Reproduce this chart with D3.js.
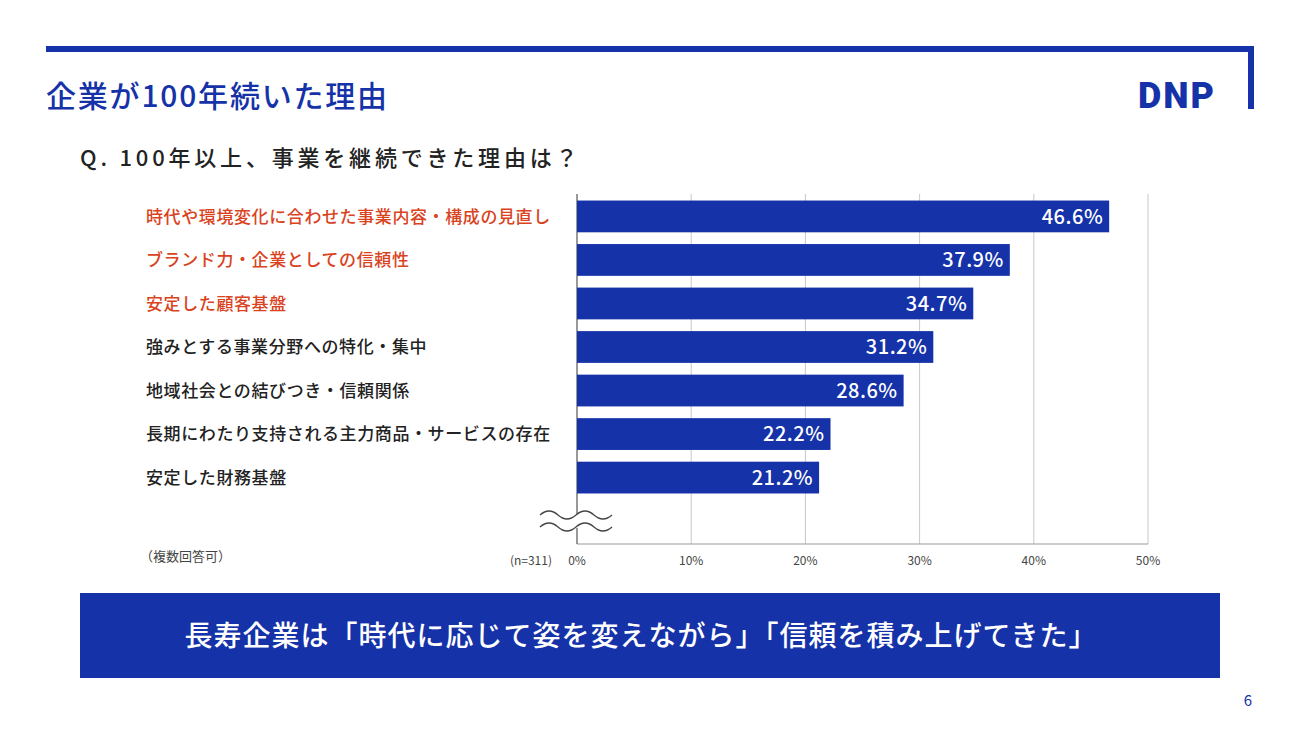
<!DOCTYPE html>
<html>
<head>
<meta charset="UTF-8">
<script src="https://d3js.org/d3.v7.min.js"></script>
<style>
  body { margin: 0; background: #fff; }
  text { font-family: "Noto Sans CJK JP", "Noto Sans", sans-serif; }
</style>
</head>
<body>
<svg width="1300" height="731"></svg>
<script>
// Data
var reasons = [
  "時代や環境変化に合わせた事業内容・構成の見直し",
  "ブランド力・企業としての信頼性",
  "安定した顧客基盤",
  "強みとする事業分野への特化・集中",
  "地域社会との結びつき・信頼関係",
  "長期にわたり支持される主力商品・サービスの存在",
  "安定した財務基盤"
];
var shares = [46.6, 37.9, 34.7, 31.2, 28.6, 22.2, 21.2];
var highlighted = [true, true, true, false, false, false, false];
var ticks = [0, 10, 20, 30, 40, 50];

var blue = "#1532a8";
var red = "#d9431e";
var svg = d3.select("svg");

// Header frame
svg.append("rect").attr("x", 46).attr("y", 46).attr("width", 1208).attr("height", 6).attr("fill", blue);
svg.append("rect").attr("x", 1248).attr("y", 46).attr("width", 6).attr("height", 63).attr("fill", blue);
svg.append("text").attr("x", 46).attr("y", 107).text("企業が100年続いた理由")
  .attr("fill", blue).attr("font-size", 30).attr("font-weight", 500).attr("letter-spacing", 1.8);
svg.append("text").attr("x", 1216).attr("y", 108).attr("text-anchor", "end").text("DNP")
  .attr("fill", blue).attr("font-size", 36).attr("font-weight", 900)
  .style("font-family", "Roboto, sans-serif").attr("letter-spacing", 2);
svg.append("text").attr("x", 80).attr("y", 166).text("Q. 100年以上、事業を継続できた理由は？")
  .attr("fill", "#222").attr("font-size", 22).attr("font-weight", 500).attr("letter-spacing", 3.8);

// Scales
var x = d3.scaleLinear().domain([0, 50]).range([577, 1148]);
var y = d3.scaleBand().domain(reasons).range([194, 500]).paddingInner(0.27).paddingOuter(0.15);

// Grid
svg.append("g").selectAll("line").data(ticks.slice(1)).enter().append("line")
  .attr("x1", d => x(d)).attr("x2", d => x(d)).attr("y1", 194).attr("y2", 544)
  .attr("stroke", "#c8c8c8").attr("stroke-width", 1);
svg.append("line").attr("x1", 577).attr("x2", 1148).attr("y1", 544).attr("y2", 544)
  .attr("stroke", "#999").attr("stroke-width", 1.2);
svg.append("line").attr("x1", 577).attr("x2", 577).attr("y1", 194).attr("y2", 544)
  .attr("stroke", "#555").attr("stroke-width", 1.2);

// Tick labels
svg.append("g").selectAll("text").data(ticks).enter().append("text")
  .attr("x", d => x(d)).attr("y", 565).attr("text-anchor", "middle")
  .attr("font-size", 12).attr("fill", "#444").text(d => d + "%");
svg.append("text").attr("x", 552).attr("y", 565).attr("text-anchor", "end")
  .attr("font-size", 12).attr("fill", "#444").text("(n=311)");
svg.append("text").attr("x", 140).attr("y", 561)
  .attr("font-size", 13).attr("fill", "#444").text("（複数回答可）");

// Bars
svg.append("g").selectAll("rect").data(shares).enter().append("rect")
  .attr("x", x(0)).attr("y", (d, i) => y(reasons[i]))
  .attr("width", d => x(d) - x(0)).attr("height", y.bandwidth()).attr("fill", blue);
svg.append("g").selectAll("text").data(shares).enter().append("text")
  .attr("x", d => x(d) - 6).attr("y", (d, i) => y(reasons[i]) + y.bandwidth() / 2)
  .attr("dy", "0.36em").attr("text-anchor", "end").attr("fill", "#fff")
  .attr("font-size", 20).attr("font-weight", 500).attr("letter-spacing", 0.5).text(d => d.toFixed(1) + "%");

// Category labels
svg.append("g").selectAll("text").data(reasons).enter().append("text")
  .attr("x", 146).attr("y", d => y(d) + y.bandwidth() / 2).attr("dy", "0.36em")
  .attr("font-size", 17).attr("font-weight", 500).attr("letter-spacing", 0.6)
  .attr("fill", (d, i) => highlighted[i] ? red : "#222").text(d => d);

// Break mark (white gap with wavy lines)
var wave = function (yy) {
  return "M540," + yy + " q9,-8 18,0 t18,0 t18,0 t18,0";
};
svg.append("rect").attr("x", 574).attr("y", 514).attr("width", 6).attr("height", 14).attr("fill", "#fff");
[515, 527].forEach(function (yy) {
  svg.append("path").attr("d", wave(yy)).attr("fill", "none").attr("stroke", "#444").attr("stroke-width", 1.3);
});

// Banner
svg.append("rect").attr("x", 80).attr("y", 593).attr("width", 1140).attr("height", 85).attr("fill", blue);
svg.append("text").attr("x", 641).attr("y", 636).attr("dy", "0.36em").attr("text-anchor", "middle")
  .attr("fill", "#fff").attr("font-size", 28).attr("font-weight", 500).attr("letter-spacing", 1)
  .text("長寿企業は「時代に応じて姿を変えながら」「信頼を積み上げてきた」");

svg.append("text").attr("x", 1252).attr("y", 706).attr("text-anchor", "end")
  .attr("fill", blue).attr("font-size", 15).text("6");
</script>
</body>
</html>
